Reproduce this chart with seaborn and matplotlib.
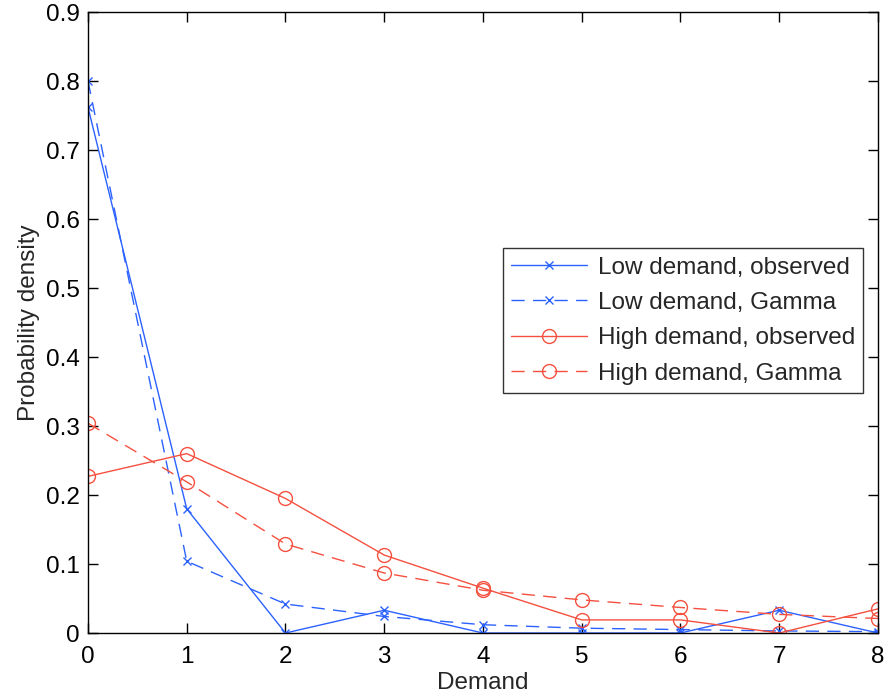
import matplotlib
matplotlib.use("Agg")
import matplotlib.pyplot as plt
import seaborn as sns
import pandas as pd

demand = [0, 1, 2, 3, 4, 5, 6, 7, 8]
low_observed = [0.762, 0.180, 0.0, 0.033, 0.0, 0.0, 0.0, 0.033, 0.0]
low_gamma = [0.800, 0.104, 0.042, 0.024, 0.012, 0.007, 0.005, 0.003, 0.002]
high_observed = [0.227, 0.260, 0.195, 0.113, 0.065, 0.019, 0.019, 0.0, 0.035]
high_gamma = [0.304, 0.219, 0.129, 0.087, 0.062, 0.048, 0.037, 0.027, 0.021]

series_names = ["Low demand, observed", "Low demand, Gamma",
                "High demand, observed", "High demand, Gamma"]

sns.set_style("ticks")
plt.rcParams['font.family'] = ['Liberation Sans', 'DejaVu Sans']

fig = plt.figure(figsize=(8.87, 6.98), dpi=100)
ax = fig.add_axes([0.0992, 0.0931, 0.8906, 0.8897])

blue = "#2b62ff"
red = "#f5503f"
dash = (0, (9.5, 6))

styles = [
    (low_observed, blue, '-', 'x', 6),
    (low_gamma, blue, dash, 'x', 6),
    (high_observed, red, '-', 'o', 10),
    (high_gamma, red, dash, 'o', 10),
]

for name, (vals, col, ls, mk, ms) in zip(series_names, styles):
    df = pd.DataFrame({"Demand": demand, "Density": vals})
    sns.lineplot(data=df, x="Demand", y="Density", ax=ax, color=col,
                 linestyle=ls, marker=mk, markersize=ms, linewidth=1.0,
                 markerfacecolor='none', markeredgecolor=col,
                 markeredgewidth=1.0, label=name)

fs = 17.5
ax.set_xlim(0, 8)
ax.set_ylim(0, 0.9)
ax.set_xticks(demand)
ax.set_yticks([0, 0.1, 0.2, 0.3, 0.4, 0.5, 0.6, 0.7, 0.8, 0.9])
ax.set_yticklabels(["0", "0.1", "0.2", "0.3", "0.4", "0.5", "0.6", "0.7", "0.8", "0.9"])
ax.tick_params(axis='x', pad=9)
ax.tick_params(axis='y', pad=6)
ax.tick_params(direction='in', top=True, right=True, length=7, width=1,
               labelsize=fs, colors='black')
for s in ax.spines.values():
    s.set_visible(True)
    s.set_linewidth(1.0)
    s.set_color('black')
ax.set_xlabel("Demand", fontsize=fs, labelpad=3)
ax.set_ylabel("Probability density", fontsize=fs, labelpad=4)

leg = ax.legend(loc='upper left', bbox_to_anchor=(0.525, 0.62), fontsize=fs,
                frameon=True, fancybox=False, edgecolor='black',
                handlelength=3.1, borderpad=0.35, labelspacing=0.55,
                handletextpad=0.45, borderaxespad=0)
leg.get_frame().set_linewidth(1.0)

fig.savefig("out.png", dpi=100)
